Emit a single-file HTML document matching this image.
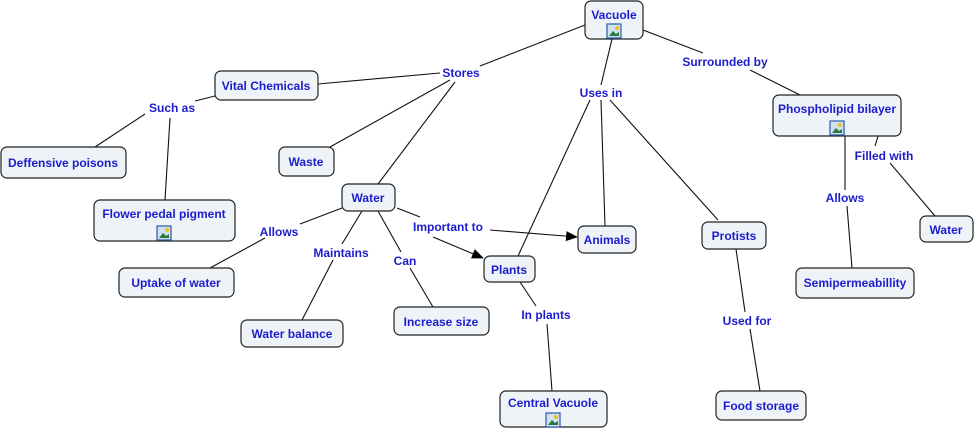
<!DOCTYPE html>
<html><head><meta charset="utf-8"><style>
html,body{margin:0;padding:0;background:#fff;width:976px;height:432px;overflow:hidden}
svg{display:block}
text{font-family:"Liberation Sans",sans-serif;font-weight:bold;font-size:12px;fill:#1c1ccc}
.n{fill:#eef3f8;stroke:#222;stroke-width:1.2}
.l{stroke:#111;stroke-width:1.1;fill:none}
</style></head><body>
<svg width="976" height="432" viewBox="0 0 976 432">
<defs><marker id="a" markerWidth="12" markerHeight="10" refX="11" refY="5" orient="auto" markerUnits="userSpaceOnUse"><path d="M0,0L12,5L0,10z" fill="#000"/></marker>
<g id="ic"><rect x="-7" y="-7" width="14" height="14" fill="#cfe0f0" stroke="#2a5aa8" stroke-width="1.2"/><path d="M-5,5 L-1,0 L2,3 L5,1 L5,5z" fill="#2a7a3a"/><circle cx="3" cy="-3" r="2" fill="#f0c020"/></g></defs>
<g class="l">
<line x1="585" y1="25" x2="480" y2="66"/>
<line x1="440" y1="73" x2="318" y2="84"/>
<line x1="450" y1="80" x2="330" y2="147"/>
<line x1="455" y1="82" x2="378" y2="184"/>
<line x1="612" y1="39" x2="601" y2="85"/>
<line x1="590" y1="100" x2="518" y2="256"/>
<line x1="601" y1="100" x2="605" y2="226"/>
<line x1="610" y1="100" x2="718" y2="220"/>
<line x1="643" y1="30" x2="703" y2="53"/>
<line x1="750" y1="70" x2="800" y2="95"/>
<line x1="215" y1="96" x2="195" y2="101"/>
<line x1="145" y1="114" x2="95" y2="147"/>
<line x1="170" y1="118" x2="165" y2="200"/>
<line x1="845" y1="136" x2="845" y2="190"/>
<line x1="847" y1="206" x2="852" y2="268"/>
<line x1="880" y1="130" x2="875" y2="146"/>
<line x1="890" y1="163" x2="935" y2="216"/>
<line x1="342" y1="208" x2="300" y2="224"/>
<line x1="265" y1="238" x2="210" y2="268"/>
<line x1="362" y1="211" x2="342" y2="244"/>
<line x1="333" y1="260" x2="302" y2="320"/>
<line x1="378" y1="211" x2="401" y2="252"/>
<line x1="410" y1="268" x2="433" y2="307"/>
<line x1="397" y1="208" x2="420" y2="217"/>
<line x1="433" y1="237" x2="483" y2="258" marker-end="url(#a)"/>
<line x1="490" y1="230" x2="577" y2="237" marker-end="url(#a)"/>
<line x1="520" y1="282" x2="536" y2="306"/>
<line x1="547" y1="324" x2="552" y2="391"/>
<line x1="736" y1="249" x2="745" y2="312"/>
<line x1="750" y1="329" x2="760" y2="391"/>
</g>
<g>
<rect class="n" x="585" y="1" width="58" height="38" rx="6"/><text x="614" y="19" text-anchor="middle">Vacuole</text><use href="#ic" x="614" y="31"/>
<rect class="n" x="215" y="71" width="103" height="29" rx="6"/><text x="266" y="90" text-anchor="middle">Vital Chemicals</text>
<rect class="n" x="1" y="147" width="125" height="31" rx="6"/><text x="63" y="167" text-anchor="middle">Deffensive poisons</text>
<rect class="n" x="279" y="147" width="55" height="29" rx="6"/><text x="306" y="166" text-anchor="middle">Waste</text>
<rect class="n" x="94" y="200" width="141" height="41" rx="6"/><text x="164" y="218" text-anchor="middle">Flower pedal pigment</text><use href="#ic" x="164" y="233"/>
<rect class="n" x="342" y="184" width="53" height="27" rx="6"/><text x="368" y="202" text-anchor="middle">Water</text>
<rect class="n" x="119" y="268" width="115" height="29" rx="6"/><text x="176" y="287" text-anchor="middle">Uptake of water</text>
<rect class="n" x="241" y="320" width="102" height="27" rx="6"/><text x="292" y="338" text-anchor="middle">Water balance</text>
<rect class="n" x="394" y="307" width="95" height="28" rx="6"/><text x="441" y="326" text-anchor="middle">Increase size</text>
<rect class="n" x="484" y="256" width="51" height="26" rx="6"/><text x="509" y="274" text-anchor="middle">Plants</text>
<rect class="n" x="578" y="226" width="58" height="27" rx="6"/><text x="607" y="244" text-anchor="middle">Animals</text>
<rect class="n" x="702" y="222" width="64" height="27" rx="6"/><text x="734" y="240" text-anchor="middle">Protists</text>
<rect class="n" x="773" y="95" width="128" height="41" rx="6"/><text x="837" y="113" text-anchor="middle">Phospholipid bilayer</text><use href="#ic" x="837" y="128"/>
<rect class="n" x="920" y="216" width="53" height="26" rx="6"/><text x="946" y="234" text-anchor="middle">Water</text>
<rect class="n" x="796" y="268" width="118" height="30" rx="6"/><text x="855" y="287" text-anchor="middle">Semipermeabillity</text>
<rect class="n" x="500" y="391" width="107" height="36" rx="6"/><text x="553" y="407" text-anchor="middle">Central Vacuole</text><use href="#ic" x="553" y="420"/>
<rect class="n" x="716" y="391" width="90" height="29" rx="6"/><text x="761" y="410" text-anchor="middle">Food storage</text>
</g>
<g text-anchor="middle">
<text x="461" y="77">Stores</text>
<text x="601" y="97">Uses in</text>
<text x="725" y="66">Surrounded by</text>
<text x="172" y="112">Such as</text>
<text x="884" y="160">Filled with</text>
<text x="845" y="202">Allows</text>
<text x="279" y="236">Allows</text>
<text x="341" y="257">Maintains</text>
<text x="405" y="265">Can</text>
<text x="448" y="231">Important to</text>
<text x="546" y="319">In plants</text>
<text x="747" y="325">Used for</text>
</g>
</svg>
</body></html>
